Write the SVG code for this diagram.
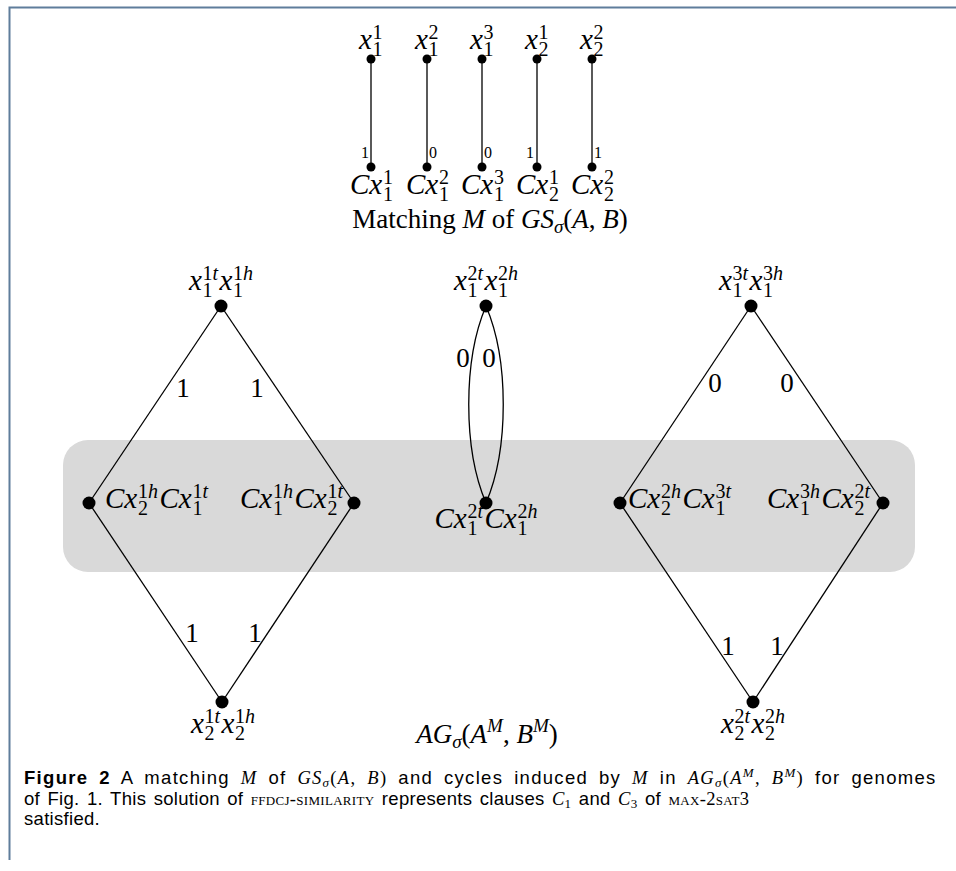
<svg xmlns="http://www.w3.org/2000/svg" width="956" height="871" viewBox="0 0 956 871">
<style>
.m{font-family:"Liberation Serif",serif;font-size:29px;font-style:italic;fill:#000}
.s{font-size:20px;font-style:normal}
.i{font-style:italic}
.t{font-family:"Liberation Serif",serif;font-size:27px;fill:#000}
.el{font-family:"Liberation Serif",serif;font-size:27px;fill:#000;text-anchor:middle}
.els{font-family:"Liberation Serif",serif;font-size:16px;fill:#000;text-anchor:middle}
.e{stroke:#000;stroke-width:1.3;fill:none}
.cap{font-family:"Liberation Sans",sans-serif;font-size:18.5px;fill:#000}
.ci{font-family:"Liberation Serif",serif;font-style:italic}
.cr{font-family:"Liberation Serif",serif}
.sc{font-family:"Liberation Serif",serif;font-variant:small-caps}
</style>
<rect width="956" height="871" fill="#fff"/>
<path d="M9.5,860 V7.5 H956" stroke="#5f7d9b" stroke-width="2" fill="none"/>
<rect x="63" y="440" width="852" height="132" rx="25" fill="#d9d9d9"/>

<g id="connectors">
<line class="e" x1="371" y1="59" x2="371" y2="167"/>
<line class="e" x1="427" y1="59" x2="427" y2="167"/>
<line class="e" x1="482" y1="59" x2="482" y2="167"/>
<line class="e" x1="537" y1="59" x2="537" y2="167"/>
<line class="e" x1="592" y1="59" x2="592" y2="167"/>
<text class="els" x="365" y="158">1</text>
<text class="els" x="433" y="158">0</text>
<text class="els" x="488" y="158">0</text>
<text class="els" x="530" y="158">1</text>
<text class="els" x="598" y="158">1</text>

<line class="e" x1="221" y1="306" x2="89" y2="503"/>
<line class="e" x1="221" y1="306" x2="354" y2="503"/>
<line class="e" x1="89" y1="503" x2="222" y2="702"/>
<line class="e" x1="354" y1="503" x2="222" y2="702"/>
<text class="el" x="183" y="397">1</text>
<text class="el" x="257" y="397">1</text>
<text class="el" x="192" y="642">1</text>
<text class="el" x="255" y="642">1</text>

<path class="e" d="M486,306 C463,360 463,449 486,503"/>
<path class="e" d="M486,306 C509,360 509,449 486,503"/>
<text class="el" x="463" y="367">0</text>
<text class="el" x="489" y="367">0</text>

<line class="e" x1="751" y1="306" x2="620" y2="503"/>
<line class="e" x1="751" y1="306" x2="883" y2="503"/>
<line class="e" x1="620" y1="503" x2="753" y2="702"/>
<line class="e" x1="883" y1="503" x2="753" y2="702"/>
<text class="el" x="715" y="392">0</text>
<text class="el" x="787" y="392">0</text>
<text class="el" x="728" y="655">1</text>
<text class="el" x="777" y="655">1</text>
</g>

<g id="m-x11"><circle cx="371" cy="59" r="4.5"/><text class="m" x="359" y="49">x<tspan class="s" x="372.5" y="39">1</tspan><tspan class="s" x="372.5" y="56">1</tspan></text></g>
<g id="m-x12"><circle cx="427" cy="59" r="4.5"/><text class="m" x="415" y="49">x<tspan class="s" x="428.5" y="39">2</tspan><tspan class="s" x="428.5" y="56">1</tspan></text></g>
<g id="m-x13"><circle cx="482" cy="59" r="4.5"/><text class="m" x="470" y="49">x<tspan class="s" x="483.5" y="39">3</tspan><tspan class="s" x="483.5" y="56">1</tspan></text></g>
<g id="m-x21"><circle cx="537" cy="59" r="4.5"/><text class="m" x="525" y="49">x<tspan class="s" x="538.5" y="39">1</tspan><tspan class="s" x="538.5" y="56">2</tspan></text></g>
<g id="m-x22"><circle cx="592" cy="59" r="4.5"/><text class="m" x="580" y="49">x<tspan class="s" x="593.5" y="39">2</tspan><tspan class="s" x="593.5" y="56">2</tspan></text></g>

<g id="m-cx11"><circle cx="371" cy="167" r="4.5"/><text class="m" x="350" y="194">Cx<tspan class="s" x="383" y="184">1</tspan><tspan class="s" x="383" y="201">1</tspan></text></g>
<g id="m-cx12"><circle cx="427" cy="167" r="4.5"/><text class="m" x="406" y="194">Cx<tspan class="s" x="439" y="184">2</tspan><tspan class="s" x="439" y="201">1</tspan></text></g>
<g id="m-cx13"><circle cx="482" cy="167" r="4.5"/><text class="m" x="461" y="194">Cx<tspan class="s" x="494" y="184">3</tspan><tspan class="s" x="494" y="201">1</tspan></text></g>
<g id="m-cx21"><circle cx="537" cy="167" r="4.5"/><text class="m" x="516" y="194">Cx<tspan class="s" x="549" y="184">1</tspan><tspan class="s" x="549" y="201">2</tspan></text></g>
<g id="m-cx22"><circle cx="592" cy="167" r="4.5"/><text class="m" x="571" y="194">Cx<tspan class="s" x="604" y="184">2</tspan><tspan class="s" x="604" y="201">2</tspan></text></g>

<text class="t" x="490" y="228" text-anchor="middle">Matching <tspan class="i">M</tspan> of <tspan class="i">GS</tspan><tspan class="i" font-size="19" dy="5">σ</tspan><tspan dy="-5">(</tspan><tspan class="i">A</tspan>, <tspan class="i">B</tspan>)</text>

<g id="L-top"><circle cx="221" cy="306" r="6.5"/><text class="m" x="189" y="290">x<tspan class="s" x="202.5" y="280">1<tspan class="i">t</tspan></tspan><tspan class="s" x="202.5" y="297">1</tspan><tspan x="219.5" y="290">x</tspan><tspan class="s" x="233" y="280">1<tspan class="i">h</tspan></tspan><tspan class="s" x="233" y="297">1</tspan></text></g>
<g id="L-left"><circle cx="89" cy="503" r="6.5"/><text class="m" x="105" y="508">Cx<tspan class="s" x="138" y="498">1<tspan class="i">h</tspan></tspan><tspan class="s" x="138" y="515">2</tspan><tspan x="159.5" y="508">Cx</tspan><tspan class="s" x="192.5" y="498">1<tspan class="i">t</tspan></tspan><tspan class="s" x="192.5" y="515">1</tspan></text></g>
<g id="L-right"><circle cx="354" cy="503" r="6.5"/><text class="m" x="240" y="508">Cx<tspan class="s" x="273" y="498">1<tspan class="i">h</tspan></tspan><tspan class="s" x="273" y="515">1</tspan><tspan x="294.5" y="508">Cx</tspan><tspan class="s" x="327.5" y="498">1<tspan class="i">t</tspan></tspan><tspan class="s" x="327.5" y="515">2</tspan></text></g>
<g id="L-bottom"><circle cx="222" cy="702" r="6.5"/><text class="m" x="191" y="733">x<tspan class="s" x="204.5" y="723">1<tspan class="i">t</tspan></tspan><tspan class="s" x="204.5" y="740">2</tspan><tspan x="221.5" y="733">x</tspan><tspan class="s" x="235" y="723">1<tspan class="i">h</tspan></tspan><tspan class="s" x="235" y="740">2</tspan></text></g>

<g id="M-top"><circle cx="486" cy="306" r="6.5"/><text class="m" x="454" y="290">x<tspan class="s" x="467.5" y="280">2<tspan class="i">t</tspan></tspan><tspan class="s" x="467.5" y="297">1</tspan><tspan x="484.5" y="290">x</tspan><tspan class="s" x="498" y="280">2<tspan class="i">h</tspan></tspan><tspan class="s" x="498" y="297">1</tspan></text></g>
<g id="M-bottom"><circle cx="486" cy="503" r="6.5"/><text class="m" x="434.5" y="528">Cx<tspan class="s" x="467.5" y="518">2<tspan class="i">t</tspan></tspan><tspan class="s" x="467.5" y="535">1</tspan><tspan x="484.5" y="528">Cx</tspan><tspan class="s" x="517.5" y="518">2<tspan class="i">h</tspan></tspan><tspan class="s" x="517.5" y="535">1</tspan></text></g>

<g id="R-top"><circle cx="751" cy="306" r="6.5"/><text class="m" x="719" y="290">x<tspan class="s" x="732.5" y="280">3<tspan class="i">t</tspan></tspan><tspan class="s" x="732.5" y="297">1</tspan><tspan x="749.5" y="290">x</tspan><tspan class="s" x="763" y="280">3<tspan class="i">h</tspan></tspan><tspan class="s" x="763" y="297">1</tspan></text></g>
<g id="R-left"><circle cx="620" cy="503" r="6.5"/><text class="m" x="628" y="508">Cx<tspan class="s" x="661" y="498">2<tspan class="i">h</tspan></tspan><tspan class="s" x="661" y="515">2</tspan><tspan x="682.5" y="508">Cx</tspan><tspan class="s" x="715.5" y="498">3<tspan class="i">t</tspan></tspan><tspan class="s" x="715.5" y="515">1</tspan></text></g>
<g id="R-right"><circle cx="883" cy="503" r="6.5"/><text class="m" x="767" y="508">Cx<tspan class="s" x="800" y="498">3<tspan class="i">h</tspan></tspan><tspan class="s" x="800" y="515">1</tspan><tspan x="821.5" y="508">Cx</tspan><tspan class="s" x="854.5" y="498">2<tspan class="i">t</tspan></tspan><tspan class="s" x="854.5" y="515">2</tspan></text></g>
<g id="R-bottom"><circle cx="753" cy="702" r="6.5"/><text class="m" x="721" y="733">x<tspan class="s" x="734.5" y="723">2<tspan class="i">t</tspan></tspan><tspan class="s" x="734.5" y="740">2</tspan><tspan x="751.5" y="733">x</tspan><tspan class="s" x="765" y="723">2<tspan class="i">h</tspan></tspan><tspan class="s" x="765" y="740">2</tspan></text></g>

<text class="t" x="487" y="743" text-anchor="middle" font-size="28"><tspan class="i">AG</tspan><tspan class="i" font-size="19" dy="5">σ</tspan><tspan dy="-5">(</tspan><tspan class="i">A</tspan><tspan class="i" font-size="19" dy="-11">M</tspan><tspan dy="11">, </tspan><tspan class="i">B</tspan><tspan class="i" font-size="19" dy="-11">M</tspan><tspan dy="11">)</tspan></text>

<g id="caption">
<text class="cap" x="24" y="784" letter-spacing="1.3" word-spacing="4.5"><tspan font-weight="bold">Figure 2</tspan> A matching <tspan class="ci">M</tspan> of <tspan class="ci">GS</tspan><tspan class="ci" font-size="13" dy="3">σ</tspan><tspan class="cr" dy="-3">(</tspan><tspan class="ci">A</tspan><tspan class="cr">,</tspan> <tspan class="ci">B</tspan><tspan class="cr">)</tspan> and cycles induced by <tspan class="ci">M</tspan> in <tspan class="ci">AG</tspan><tspan class="ci" font-size="13" dy="3">σ</tspan><tspan class="cr" dy="-3">(</tspan><tspan class="ci">A</tspan><tspan class="ci" font-size="13" dy="-7">M</tspan><tspan class="cr" dy="7">,</tspan> <tspan class="ci">B</tspan><tspan class="ci" font-size="13" dy="-7">M</tspan><tspan class="cr" dy="7">)</tspan> for genomes</text>
<text class="cap" x="24" y="805" letter-spacing="0.3" word-spacing="2">of Fig. 1. This solution of <tspan class="sc">ffdcj-similarity</tspan> represents clauses <tspan class="ci">C</tspan><tspan class="cr" font-size="13" dy="3">1</tspan><tspan dy="-3"> and </tspan><tspan class="ci">C</tspan><tspan class="cr" font-size="13" dy="3">3</tspan><tspan dy="-3"> of </tspan><tspan class="sc">max-2sat3</tspan></text>
<text class="cap" x="24" y="825" letter-spacing="0.3">satisfied.</text>
</g>
</svg>
